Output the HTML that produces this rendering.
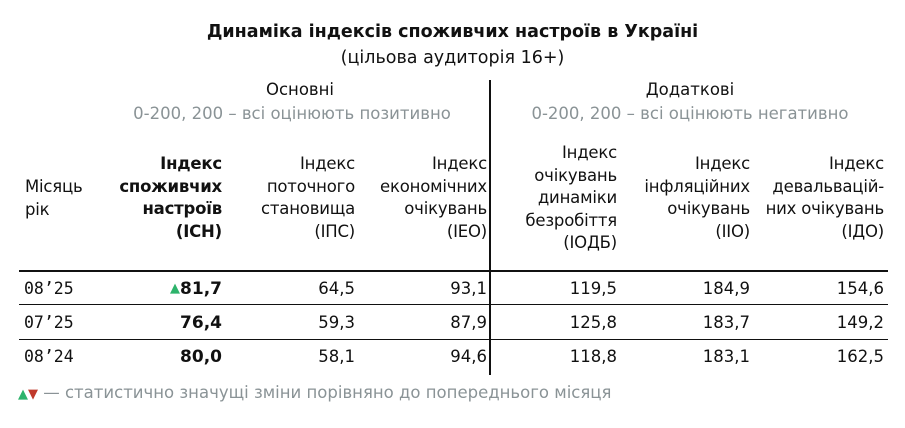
<!DOCTYPE html>
<html><head><meta charset="utf-8">
<style>
body{margin:0;width:905px;height:428px;background:#fff;position:relative;overflow:hidden;font-family:"DejaVu Sans","Liberation Sans",sans-serif;color:#111;}
.a{position:absolute;white-space:nowrap;}
.r{text-align:right;}
.c{text-align:center;}
.h{font-size:16.5px;line-height:22.5px;letter-spacing:-0.2px;}
.v{font-size:16.5px;line-height:20px;}
.g{color:#8a9396;}
.hl{position:absolute;left:19px;width:869px;height:1.5px;background:#111;}
</style></head><body>
<div class="a c" style="left:0;width:905px;top:22px;font-size:17.5px;font-weight:bold;">Динаміка індексів споживчих настроїв в Україні</div>
<div class="a c" style="left:0;width:905px;top:48px;font-size:17.5px;">(цільова аудиторія 16+)</div>

<div class="a c" style="left:100px;width:400px;top:80px;font-size:16.5px;">Основні</div>
<div class="a c g" style="left:92px;width:400px;top:104px;font-size:16.5px;">0-200, 200 – всі оцінюють позитивно</div>
<div class="a c" style="left:490px;width:400px;top:80px;font-size:16.5px;">Додаткові</div>
<div class="a c g" style="left:490px;width:400px;top:104px;font-size:16.5px;">0-200, 200 – всі оцінюють негативно</div>

<div class="a" style="left:489px;top:80px;width:2px;height:295px;background:#111;"></div>

<div class="a h" style="left:25px;top:176px;">Місяць<br>рік</div>
<div class="a h r" style="right:683px;top:153px;font-weight:bold;">Індекс<br>споживчих<br>настроїв<br>(ІСН)</div>
<div class="a h r" style="right:550px;top:153px;">Індекс<br>поточного<br>становища<br>(ІПС)</div>
<div class="a h r" style="right:418px;top:153px;">Індекс<br>економічних<br>очікувань<br>(ІЕО)</div>
<div class="a h r" style="right:288px;top:142px;">Індекс<br>очікувань<br>динаміки<br>безробіття<br>(ІОДБ)</div>
<div class="a h r" style="right:155px;top:153px;">Індекс<br>інфляційних<br>очікувань<br>(ІІО)</div>
<div class="a h r" style="right:21px;top:153px;">Індекс<br>девальвацій-<br>них очікувань<br>(ІДО)</div>

<div class="hl" style="top:270px;"></div>
<div class="hl" style="top:304px;height:1px;"></div>
<div class="hl" style="top:339px;height:1px;"></div>

<div class="a g" style="left:18px;top:383px;font-size:16.5px;"><span style="color:#2db36b;font-size:13px;">▲</span><span style="color:#c0392b;font-size:13px;">▼</span> — статистично значущі зміни порівняно до попереднього місяця</div>

<script>
const months=["08’25","07’25","08’24"];
const ich=["81,7","76,4","80,0"];
const ips=["64,5","59,3","58,1"];
const ieo=["93,1","87,9","94,6"];
const iodb=["119,5","125,8","118,8"];
const iio=["184,9","183,7","183,1"];
const ido=["154,6","149,2","162,5"];
const ichUp=[true,false,false];
const rowTops=[279,313,347];
const cols=[[ips,550,'ips'],[ieo,418,'ieo'],[iodb,288,'iodb'],[iio,155,'iio'],[ido,21,'ido']];
const root=document.body;
months.forEach((m,i)=>{
  const t=rowTops[i];
  const md=document.createElement('div');
  md.className='a v';md.style.left='24px';md.style.top=t+'px';
  md.style.fontFamily='"DejaVu Sans Mono","Liberation Mono",monospace';md.style.fontSize='16.5px';
  md.textContent=m;
  
  
  root.appendChild(md);
  const id=document.createElement('div');
  id.className='a v r';id.style.right='683px';id.style.top=t+'px';id.style.fontWeight='bold';id.style.fontSize='17px';
  id.innerHTML=(ichUp[i]?'<span style="color:#2db36b;font-size:13px;vertical-align:2px;">▲</span>':'')+ich[i];
  
  
  root.appendChild(id);
  cols.forEach(c=>{
    const d=document.createElement('div');
    d.className='a v r';d.style.right=c[1]+'px';d.style.top=t+'px';
    d.textContent=c[0][i];
    
    
    root.appendChild(d);
  });
});
</script>
</body></html>
